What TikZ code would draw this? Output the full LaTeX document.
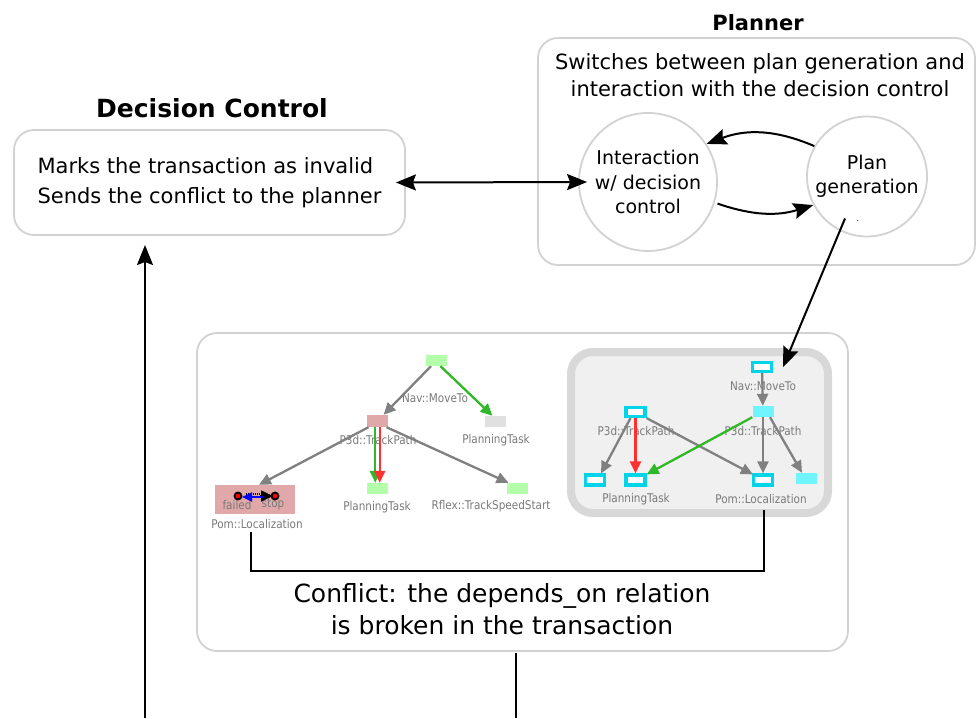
\documentclass[tikz,border=0pt]{standalone}
\usepackage{fontspec}
\setmainfont{DejaVu Sans}
\newfontfamily\condfont[FakeStretch=0.87]{DejaVu Sans}
\usetikzlibrary{arrows.meta,calc}
\definecolor{boxgray}{HTML}{D2D2D2}
\definecolor{labgray}{HTML}{7A7A7A}
\definecolor{edgegray}{HTML}{808080}
\definecolor{ggreen}{HTML}{30B828}
\definecolor{rred}{HTML}{FF3030}
\definecolor{lgreen}{HTML}{B3FFAA}
\definecolor{lpink}{HTML}{E0A8A8}
\definecolor{lgray}{HTML}{E0E0E0}
\definecolor{tcyan}{HTML}{00D4E6}
\definecolor{lcyan}{HTML}{70F4FF}
\definecolor{framefill}{HTML}{F0F0F0}
\definecolor{framedraw}{HTML}{D8D8D8}
\tikzset{
  box/.style={draw=boxgray, line width=1.8pt, rounded corners=20pt, fill=white},
  circ/.style={circle, draw=boxgray, line width=1.8pt, align=center, inner sep=0pt,
    font=\fontsize{19}{24.5}\selectfont},
  arr/.style={-{Stealth[length=20pt,width=16pt,inset=3pt]}, line width=2pt},
  darr/.style={{Stealth[length=20pt,width=16pt,inset=3pt]}-{Stealth[length=20pt,width=16pt,inset=3pt]}, line width=2pt},
  garr/.style={-{Triangle[length=12pt,width=11pt]}, draw=edgegray, line width=2.3pt},
  gnarr/.style={-{Triangle[length=12pt,width=11pt]}, draw=ggreen, line width=2.3pt},
  rarr/.style={-{Triangle[length=12pt,width=11pt]}, draw=rred, line width=2.3pt},
  lbl/.style={text=labgray, font=\condfont\fontsize{12}{13}\selectfont, inner sep=0pt},
  tnode/.style={minimum width=21pt, minimum height=11pt, inner sep=0pt, draw=none},
  onode/.style={draw=tcyan, fill=white, line width=3.2pt, minimum width=19pt, minimum height=9pt, inner sep=0pt},
  fnode/.style={fill=lcyan, minimum width=21pt, minimum height=11pt, inner sep=0pt},
  dotc/.style={circle, draw=black, fill=red, line width=1.8pt, minimum size=7pt, inner sep=0pt},
}
\begin{document}
\begin{tikzpicture}[x=1pt,y=-1pt]
\useasboundingbox (0,0) rectangle (976,718);

% ---------- Decision control ----------
\node[font=\bfseries\fontsize{25}{28}\selectfont] (dctitle) at (212,108) {Decision Control};
\node[box, minimum width=391pt, minimum height=105pt, align=left,
  font=\fontsize{21}{30}\selectfont] (dc) at (209.5,182.5)
  {Marks the transaction as invalid\\Sends the conflict to the planner};

% ---------- Planner ----------
\node[font=\bfseries\fontsize{21}{24}\selectfont] (pltitle) at (758,23) {Planner};
\node[box, minimum width=437pt, minimum height=227pt] (pl) at (756.5,151.5) {};
\node[align=center, font=\fontsize{21}{27}\selectfont] (pltext) at (760,75.5)
  {Switches between plan generation and\\interaction with the decision control};
\node[circ, minimum size=138pt] (ia) at (648,182) {Interaction\\w/ decision\\control};
\node[circ, minimum size=120pt] (pg) at (867,176.5) {Plan\\generation};
\node[font=\fontsize{8}{8}\selectfont, inner sep=0pt] (pgdot) at (858,221) {.};

\draw[arr] (pg.150) to[bend right=22] (ia.33);
\draw[arr] ($(ia.-18)+(3,0)$) to[bend right=18] (pg.208);
\draw[darr] ($(dc.east)+(-10,0)$) -- ($(ia.west)+(9,0)$);

% ---------- Middle box ----------
\node[box, minimum width=651pt, minimum height=318pt] (mid) at (522.5,492) {};

% right graph frame
\node[draw=framedraw, fill=framefill, line width=8pt, rounded corners=22pt,
  minimum width=257pt, minimum height=161pt] (frame) at (699.5,432.5) {};

% left graph nodes
\node[tnode, fill=lgreen] (lnav) at (436.5,360.5) {};
\node[tnode, fill=lpink, minimum height=12pt] (lp3d) at (377.5,421) {};
\node[tnode, fill=lgray] (lpt1) at (495.5,421.5) {};
\node[tnode, fill=lgreen] (lpt2) at (377.5,488.5) {};
\node[tnode, fill=lgreen] (lrf) at (517.5,488.5) {};
\node[tnode, fill=lpink, minimum width=80pt, minimum height=29pt] (lpom) at (255,499.5) {};

\node[lbl] (lnavl) at (435,398) {Nav::MoveTo};
\node[lbl] (lp3dl) at (378,440) {P3d::TrackPath};
\node[lbl] (lpt1l) at (496,440) {PlanningTask};
\node[lbl] (lpt2l) at (377,507) {PlanningTask};
\node[lbl] (lrfl) at (491,506) {Rflex::TrackSpeedStart};
\node[lbl] (lpoml) at (257,524) {Pom::Localization};
\node[lbl] (lfail) at (237,505) {failed};
\node[lbl] (lstop) at (273,505) {stop};

\node[dotc] (c1) at (238,496) {};
\node[dotc] (c2) at (275,496) {};
\draw[line width=1.2pt, densely dotted] ($(c1)+(8,-2)$) -- ($(c2)+(-12,-2)$);
\draw[line width=1.6pt, -{Triangle[length=12pt,width=11pt]}] ($(c2)+(-15,0)$) -- ($(c2)+(-2,0)$);
\draw[blue, line width=2pt, -{Triangle[length=10pt,width=9pt]}] ($(c2)+(-12,1)$) -- ($(c1)+(4,1)$);

% left graph edges
\draw[garr] (lnav) -- (lp3d);
\draw[gnarr] ($(lnav.south)+(4,0)$) -- ($(lpt1.north)+(-3,0)$);
\draw[garr] ($(lp3d.south)+(-9,0)$) -- ($(lpom.north)+(4,0)$);
\draw[gnarr] ($(lp3d.south)+(-2.2,0)$) -- ($(lpt2.north)+(-2.2,0)$);
\draw[rarr] ($(lp3d.south)+(2.2,0)$) -- ($(lpt2.north)+(2.2,0)$);
\draw[garr] ($(lp3d.south)+(9,0)$) -- ($(lrf.north)+(-9,0)$);

% right graph nodes
\node[onode] (rnav) at (762,367) {};
\node[fnode] (rp3dR) at (763,411.5) {};
\node[onode] (rp3dL) at (635.5,412) {};
\node[onode, minimum height=10pt] (rpt1) at (595,480) {};
\node[onode, minimum height=10pt] (rpt2) at (635.5,480) {};
\node[onode, minimum height=10pt] (rpom) at (763,480) {};
\node[fnode] (rx) at (806,478.5) {};

\node[lbl] (rnavl) at (763,386) {Nav::MoveTo};
\node[lbl] (rp3dRl) at (763,431) {P3d::TrackPath};
\node[lbl] (rp3dLl) at (636,431) {P3d::TrackPath};
\node[lbl] (rptl) at (636,499) {PlanningTask};
\node[lbl] (rpoml) at (761,499) {Pom::Localization};

% right graph edges
\draw[garr] (rnav) -- (rp3dR);
\draw[garr] ($(rp3dL.south)+(-5,0)$) -- ($(rpt1.north)+(6,0)$);
\draw[rarr] (rp3dL) -- (rpt2);
\draw[garr] (rp3dL.south east) -- ($(rpom.north west)+(1,1)$);
\draw[gnarr] (rp3dR.south west) -- ($(rpt2.north east)+(0,1)$);
\draw[garr] (rp3dR) -- (rpom);
\draw[garr] ($(rp3dR.south)+(7,0)$) -- ($(rx.north)+(-4,0)$);

% planner -> graph
\coordinate (pgout) at ($(pg.center)+(-22,42)$);
\draw[arr] (pgout) -- ($(rnav.east)+(10,0)$);

% conflict bracket
\coordinate (b1) at (251,532);
\coordinate (b4) at (764,510);
\draw[line width=2.2pt] (b1) -- (251,571) -- (764,571) -- (b4);
\node[align=center, font=\fontsize{25}{32}\selectfont] (conf) at (502,609)
  {Conflict: the depends\_on relation\\is broken in the transaction};

% outgoing / incoming lines
\coordinate (l1) at (145,718);
\coordinate (l2) at (145,245);
\draw[arr] (l1) -- (l2);
\coordinate (m1) at (516,653);
\coordinate (m2) at (516,718);
\draw[line width=2pt] (m1) -- (m2);
\end{tikzpicture}
\end{document}
